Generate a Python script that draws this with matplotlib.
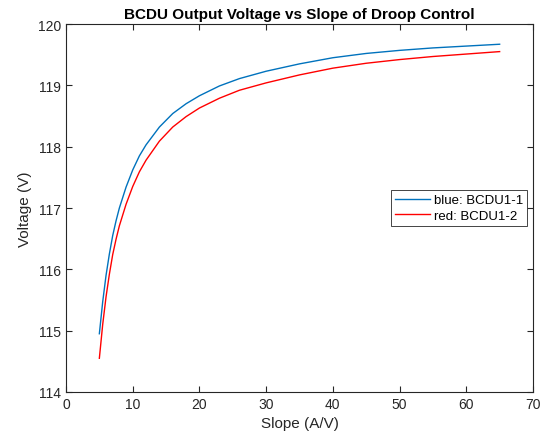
import numpy as np
import matplotlib
matplotlib.use('Agg')
from matplotlib import pyplot as plt

plt.rcParams['font.family'] = ['Liberation Sans', 'DejaVu Sans']

# values
slope = [5, 5.5, 6, 6.5, 7, 7.5, 8, 9, 10, 11, 12, 14, 16, 18, 20, 23, 26, 30, 35, 40, 45, 50, 55, 60, 65]
v_bcdu1 = [114.95, 115.47, 115.90, 116.25, 116.55, 116.79, 117.00, 117.34, 117.62, 117.85, 118.03,
           118.32, 118.54, 118.70, 118.83, 118.99, 119.11, 119.23, 119.35, 119.45, 119.52, 119.57,
           119.61, 119.64, 119.67]
v_bcdu2 = [114.55, 115.10, 115.55, 115.92, 116.24, 116.49, 116.71, 117.06, 117.35, 117.59, 117.78,
           118.09, 118.32, 118.49, 118.63, 118.79, 118.92, 119.04, 119.17, 119.28, 119.36, 119.42,
           119.47, 119.51, 119.55]
labels = ['blue: BCDU1-1', 'red: BCDU1-2']

fig = plt.figure(figsize=(5.52, 4.39), dpi=100)
ax = fig.add_axes([66/552, 46/439, 467/552, 368/439])

ax.plot(slope, v_bcdu1, color='#0072BD', lw=1.0, label=labels[0])
ax.plot(slope, v_bcdu2, color='#FF0000', lw=1.0, label=labels[1])

ax.set_xlim(0, 70)
ax.set_ylim(114, 120)
ax.set_xticks(np.arange(0, 71, 10))
ax.set_yticks(np.arange(114, 121, 1))

dark = '#262626'
for s in ax.spines.values():
    s.set_color(dark)
    s.set_linewidth(0.8)
ax.tick_params(direction='in', top=True, right=True, length=4, width=0.8,
               colors=dark, labelsize=10, labelcolor=dark)

ax.set_xlabel('Slope (A/V)', fontsize=11, color=dark)
ax.set_ylabel('Voltage (V)', fontsize=11, color=dark)
ax.set_title('BCDU Output Voltage vs Slope of Droop Control', fontsize=11, fontweight='bold', pad=4)

leg = ax.legend(loc='center right', bbox_to_anchor=(0.987, 0.5), borderaxespad=0, fontsize=9.5,
                fancybox=False, framealpha=1, borderpad=0.3, handlelength=2.6, labelspacing=0.25,
                handletextpad=0.3)
leg.get_frame().set_edgecolor(dark)
leg.get_frame().set_linewidth(0.6)

fig.savefig('out.png', dpi=100)
